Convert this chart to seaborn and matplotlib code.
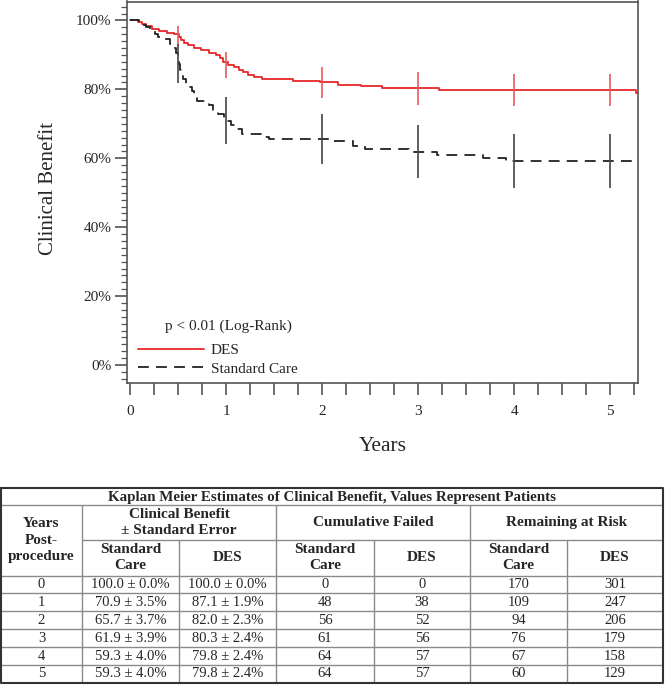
import numpy as np
import matplotlib
matplotlib.use("Agg")
import matplotlib.pyplot as plt
from matplotlib.ticker import MultipleLocator, PercentFormatter
import seaborn as sns

# ---------------- data ----------------
# Kaplan-Meier step curves (time in years, clinical benefit in %)
des_t = [0.00, 0.08, 0.12, 0.17, 0.23, 0.30, 0.38, 0.46, 0.51, 0.53, 0.56, 0.60,
         0.66, 0.74, 0.82, 0.89, 0.94, 0.97, 1.02, 1.08, 1.13, 1.18, 1.23, 1.29,
         1.37, 1.70, 1.98, 2.16, 2.40, 2.62, 3.22, 5.27, 5.29]
des_s = [100.0, 99.6, 99.0, 98.3, 97.6, 97.0, 96.5, 96.0, 95.2, 94.3, 93.5, 92.8,
         92.0, 91.3, 90.6, 89.9, 89.0, 88.0, 87.1, 86.4, 85.7, 85.0, 84.3, 83.7,
         83.1, 82.5, 82.0, 81.4, 81.0, 80.3, 79.8, 79.0, 79.0]

sc_t = [0.00, 0.09, 0.12, 0.16, 0.21, 0.26, 0.29, 0.33, 0.41, 0.45, 0.48, 0.50,
        0.51, 0.52, 0.53, 0.55, 0.58, 0.61, 0.64, 0.67, 0.70, 0.82, 0.86, 0.92,
        0.98, 1.05, 1.10, 1.16, 1.38, 1.45, 2.08, 2.32, 2.45, 2.90, 3.20, 3.68,
        3.92, 5.29]
sc_s = [100.0, 99.4, 98.8, 98.2, 97.4, 96.2, 95.2, 94.5, 93.2, 92.0, 90.6, 89.0,
        87.3, 85.6, 84.3, 82.9, 81.6, 80.6, 79.6, 78.0, 76.7, 75.4, 74.1, 72.9,
        70.9, 69.7, 68.4, 67.1, 66.3, 65.7, 65.1, 63.7, 62.6, 61.9, 61.0, 60.2,
        59.3, 59.3]

# error bars (95% CI = estimate +/- 1.96 SE)
bar_years = [0.5, 1, 2, 3, 4, 5]
des_bar_est = [95.4, 87.1, 82.0, 80.3, 79.8, 79.8]
des_bar_se = [1.5, 1.9, 2.3, 2.4, 2.4, 2.4]
sc_bar_est = [87.6, 70.9, 65.7, 61.9, 59.3, 59.3]
sc_bar_se = [2.9, 3.5, 3.7, 3.9, 4.0, 4.0]

series_labels = ["DES", "Standard Care"]
pvalue_text = "p < 0.01 (Log-Rank)"
x_label = "Years"
y_label = "Clinical Benefit"
x_ticks = [0, 1, 2, 3, 4, 5]
y_ticks = [0, 20, 40, 60, 80, 100]

# table data
table_title = "Kaplan Meier Estimates of Clinical Benefit, Values Represent Patients"
table_years = [0, 1, 2, 3, 4, 5]
sc_benefit = [100.0, 70.9, 65.7, 61.9, 59.3, 59.3]
sc_se = [0.0, 3.5, 3.7, 3.9, 4.0, 4.0]
des_benefit = [100.0, 87.1, 82.0, 80.3, 79.8, 79.8]
des_se = [0.0, 1.9, 2.3, 2.4, 2.4, 2.4]
sc_failed = [0, 48, 56, 61, 64, 64]
des_failed = [0, 38, 52, 56, 57, 57]
sc_risk = [170, 109, 94, 76, 67, 60]
des_risk = [301, 247, 206, 179, 158, 129]
group_headers = ["Clinical Benefit\n\u00b1 Standard Error", "Cumulative Failed", "Remaining at Risk"]
sub_headers = ["Standard\nCare", "DES"]
first_header = "Years\nPost-\nprocedure"

# ---------------- style ----------------
sns.set_style("ticks")
plt.rcParams["font.family"] = ["Liberation Serif", "DejaVu Serif"]

W, H = 666, 685
fig = plt.figure(figsize=(W / 100, H / 100), dpi=100)

left_px, right_px, top_px, bot_px = 127.3, 638.0, 1.5, 383.3
ax = fig.add_axes([left_px / W, 1 - bot_px / H, (right_px - left_px) / W, (bot_px - top_px) / H])

RED = "#e8262a"
BLACK = "#222222"

sns.lineplot(x=des_t, y=des_s, ax=ax, drawstyle="steps-post", color=RED, lw=1.3,
             estimator=None, label=series_labels[0])
sns.lineplot(x=sc_t, y=sc_s, ax=ax, drawstyle="steps-post", color=BLACK, lw=1.3,
             linestyle=(0, (6, 4)), estimator=None, label=series_labels[1])

des_lo = [e - 1.96 * s for e, s in zip(des_bar_est, des_bar_se)]
des_hi = [e + 1.96 * s for e, s in zip(des_bar_est, des_bar_se)]
sc_lo = [e - 1.96 * s for e, s in zip(sc_bar_est, sc_bar_se)]
sc_hi = [e + 1.96 * s for e, s in zip(sc_bar_est, sc_bar_se)]
ax.vlines(bar_years, des_lo, des_hi, color="#e65a5a", lw=1.2, zorder=3)
ax.vlines(bar_years, sc_lo, sc_hi, color="#444444", lw=1.2, zorder=3)

ax.set_xlim(-0.03, 5.29)
ax.set_ylim(-5.3, 105.5)
ax.set_xticks(x_ticks)
ax.xaxis.set_minor_locator(MultipleLocator(0.25))
ax.set_yticks(y_ticks)
ax.yaxis.set_minor_locator(MultipleLocator(2))
ax.yaxis.set_major_formatter(PercentFormatter(decimals=0))

for s in ax.spines.values():
    s.set_color("#555555")
    s.set_linewidth(1.2)

ax.tick_params(axis="x", which="both", direction="out", length=8.5, width=1.1,
               color="#444444", labelsize=11, pad=7)
ax.tick_params(axis="y", which="major", direction="out", length=8.5, width=1.1,
               color="#444444", labelsize=11, pad=3)
ax.tick_params(axis="y", which="minor", direction="out", length=4.3, width=0.9,
               color="#555555")

ax.set_xlabel(x_label, fontsize=15.5)
ax.xaxis.set_label_coords(0.5, -0.14)
ax.set_ylabel(y_label, fontsize=15)
ax.yaxis.set_label_coords(-0.135, 0.51)

leg = ax.legend(loc="lower left", bbox_to_anchor=(0.021, 0.02),
                frameon=False, fontsize=11, handlelength=4.3,
                handletextpad=0.45, labelspacing=0.3, borderpad=0, borderaxespad=0)
ax.text(0.074, 0.150, pvalue_text, transform=ax.transAxes, ha="left", va="center",
        fontsize=11)

# ---------------- table ----------------
tax = fig.add_axes([0, 0, 1, 1])
tax.set_xlim(0, W)
tax.set_ylim(H, 0)
tax.axis("off")

cols = [1, 82, 179, 276, 374, 470, 567, 663]
y_top, y_title, y_h1, y_h2 = 488, 505, 540, 575.5
row_h = 17.9
n_rows = len(table_years)
y_bot = y_h2 + n_rows * row_h

GRID = "#8a8a8a"
lw_in = 1.0
tax.hlines([y_title, y_h2], cols[0], cols[-1], color=GRID, lw=lw_in)
tax.hlines(y_h1, cols[1], cols[-1], color=GRID, lw=lw_in)
tax.hlines([y_h2 + i * row_h for i in range(1, n_rows)], cols[0], cols[-1], color=GRID, lw=lw_in)
tax.vlines([cols[1], cols[3], cols[5]], y_title, y_bot, color=GRID, lw=lw_in)
tax.vlines([cols[2], cols[4], cols[6]], y_h1, y_bot, color=GRID, lw=lw_in)
tax.plot([cols[0], cols[-1], cols[-1], cols[0], cols[0]],
         [y_top, y_top, y_bot, y_bot, y_top], color="#333333", lw=1.5)

FS = 10.5
HFS = 11
tax.text((cols[0] + cols[-1]) / 2, (y_top + y_title) / 2 + 0.5, table_title,
         ha="center", va="center", fontsize=10.8, fontweight="bold")
tax.text((cols[0] + cols[1]) / 2, (y_title + y_h2) / 2, first_header, ha="center",
         va="center", fontsize=HFS, fontweight="bold", linespacing=1.33)
for g, text in enumerate(group_headers):
    c0, c1 = cols[1 + 2 * g], cols[3 + 2 * g]
    tax.text((c0 + c1) / 2, (y_title + y_h1) / 2, text, ha="center", va="center",
             fontsize=HFS, fontweight="bold", linespacing=1.3)
    for k, sub in enumerate(sub_headers):
        a, b = cols[1 + 2 * g + k], cols[2 + 2 * g + k]
        tax.text((a + b) / 2, (y_h1 + y_h2) / 2, sub, ha="center", va="center",
                 fontsize=HFS, fontweight="bold", linespacing=1.3)

for i in range(n_rows):
    yc = y_h2 + (i + 0.5) * row_h
    cells = [str(table_years[i]),
             f"{sc_benefit[i]:.1f} \u00b1 {sc_se[i]:.1f}%",
             f"{des_benefit[i]:.1f} \u00b1 {des_se[i]:.1f}%",
             str(sc_failed[i]), str(des_failed[i]),
             str(sc_risk[i]), str(des_risk[i])]
    for j, t in enumerate(cells):
        tax.text((cols[j] + cols[j + 1]) / 2, yc, t, ha="center", va="center", fontsize=FS)

fig.savefig("out.png", dpi=100)
